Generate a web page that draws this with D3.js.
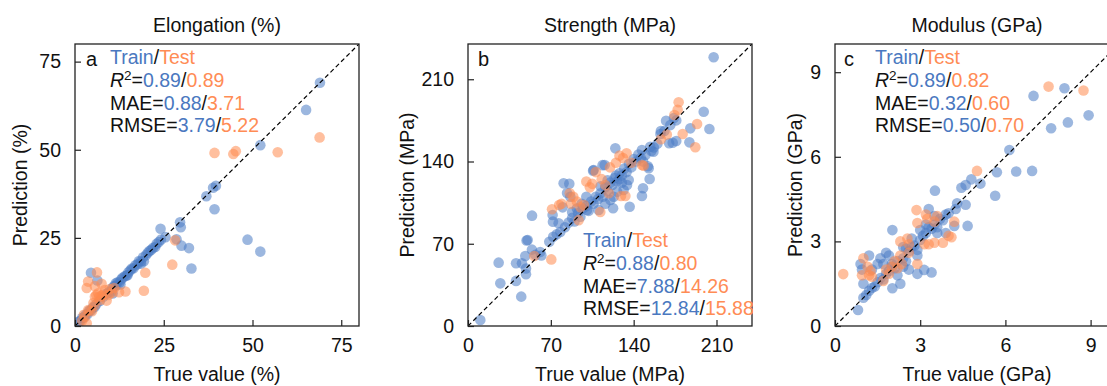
<!DOCTYPE html>
<html>
<head>
<meta charset="utf-8">
<title>Prediction vs true value</title>
<script src="https://d3js.org/d3.v7.min.js"></script>
<style>
body { margin: 0; background: #fff; }
svg text { font-family: "Liberation Sans", Arial, sans-serif; fill: #111; }
</style>
</head>
<body>
<div id="chart"></div>
<script>

// ---- data: [true, predicted] ----
var elongTrain = [[69,69],[65.1,61.3],[52.2,51.3],[39.7,39.8],[38.9,39.2],[37,36.8],[39.3,33.1],[29.6,29.4],[29.8,28],
  [24.1,27.6],[25.5,25.2],[28.6,24.6],[30,22.8],[32.1,22.1],[48.6,24.5],[52.2,21.1],[32.8,16.3],[4.5,15.1],[6.3,12.9],
  [10.6,9.2],[11.5,12.1],[18.6,17.7],[19.4,18.4],[10.5,10.8],[11,11.3],[11.6,11.5],[12,12.4],[12.5,12.3],[13,13.2],
  [13.4,13.7],[14,14.1],[14.5,14.3],[15,15.2],[15.6,15.8],[16,16.3],[16.5,16.4],[17,17.2],[17.6,17.5],[18,18.4],
  [18.5,18.3],[19.2,19.5],[20,20.1],[20.5,20.8],[21,21.3],[21.5,21.6],[22,22.2],[22.6,22.4],[23,23.3],[23.6,23.8],
  [24.2,24.5],[1,1.2],[1.5,1.4],[2,2.3],[2.5,2.4],[3,3.2],[3.5,3.3],[4,4.3],[4.5,4.4],[5,5.2],[5.5,5.4],[6,6.2],
  [7,7.1],[8,8.3],[9,9.2],[9.5,9.6],[12.8,11.8],[14.8,14.4],[10.2,9.8]];
var elongTest = [[68.9,53.5],[57.1,49.3],[39.3,49.1],[44.6,48.8],[45.3,49.6],[28.2,24.3],[27.4,17.4],[19.8,15.1],
  [19.4,10],[14.2,9.8],[12.4,9.6],[10.4,9.4],[3.7,12.6],[3.3,10.8],[5.6,11.3],[6.2,15.2],[7.5,12],[8.4,10.2],[6.5,9.3],
  [5.6,8.3],[9.4,8.8],[8.9,7.2],[7,7.4],[5.2,6.5],[3.7,4.5],[2.8,2.6],[3.3,0.8],[2,1.5],[4.2,4.4],[6,8.8],[7.5,8.6],
  [8,9],[9.8,10.5],[11,10.8],[5.5,5.8],[4.8,4.2],[2.5,3.2],[6.8,8.2]];

var strengthTrain = [[207.6,228.7],[199.2,182.4],[204,167.7],[187.9,168.2],[187.1,156.3],[167.4,174.7],[171,171],
  [174,177],[176,175],[162.6,163.4],[166,166],[170,155.5],[173,156],[176,157.5],[157,152],[155,149],[153.5,125.1],
  [147.9,117.2],[147,110.7],[152,136],[150,145.5],[154,152.6],[156.7,148.3],[147,149.8],[152.7,134.2],[136.6,101.5],
  [124.5,151.2],[122.6,100.2],[105.7,132.2],[113.7,136.9],[80.8,121.4],[85.6,121],[83.7,113.2],[86.5,110],[80,101],
  [71.5,94.5],[71.8,88.8],[76.6,87.4],[54.1,93.9],[50.4,73.2],[49.5,72.8],[54,65],[48.4,59.6],[45.6,53.3],[49,49],
  [49,44],[40.6,53.4],[40.6,38.4],[45,25],[25.9,53.9],[27.3,36.3],[10.4,5.1],[57,60.5],[61,63],[68.7,71.6],[62,60],
  [72,76],[75,78],[78,80],[82,84],[85,88],[88,92],[90,89],[93,96],[95,93],[97,100],[100,102],[102,98],[104,106],
  [106,104],[108,110],[110,108],[112,113],[114,110],[116,118],[118,115],[120,122],[122,120],[124,126],[126,123],
  [128,130],[130,128],[132,134],[134,131],[136,138],[138,135],[140,142],[142,140],[144,146],[146,143],[135.8,124.3],
  [134.4,120],[131.5,115.7],[126,114.3],[123.1,110],[120.3,107.2],[115.5,137],[106.2,132.8],[100.6,98.7],[110.4,98.7],
  [116,104],[128,125],[130,122],[125,128],[118,124],[112,119],[100,110],[96,104],[92,100],[88,97],[148,140],[160,155],[163,166]];
var strengthTest = [[178,190.4],[177.2,184],[174.4,179.6],[193.6,171.9],[192.1,152.1],[181.4,163.4],[163,159],[168,163],
  [148.4,136.4],[125,139],[128,145],[131,143],[134,147],[129.3,110.6],[133,110.6],[105,121],[108,131],[113,125],[100,123],
  [111.8,97],[86,113],[89,110],[87,104],[92,106],[79,104],[77,103],[71,99.3],[93.5,90.1],[70.4,56.7],[56,59.6],[98,103],
  [120,135],[116,120],[138,139],[103,118],[119,113],[147,137],[95,101]];

var modulusTrain = [[8.08,8.43],[6.99,8.16],[8.93,7.47],[8.2,7.22],[7.61,7.01],[6.14,6.24],[6.94,5.5],[6.38,5.48],[5.7,5.45],
  [5.64,4.62],[5.12,5.05],[4.8,5.2],[4.6,5.0],[4.45,4.9],[4.6,4.3],[4.3,4.35],[4.25,4.15],[4.67,3.55],[4.2,3.55],[3.52,4.8],
  [3.3,4.15],[3.14,1.99],[3.4,1.9],[2.9,1.85],[2.02,3.4],[2.02,1.34],[2.3,1.5],[0.81,0.57],[1.0,1.0],[0.9,2.2],[0.95,2.0],
  [1.0,1.5],[2.9,2.5],[2.5,2.75],[2.7,2.8],[1.1,1.1],[1.2,1.25],[1.3,1.35],[1.4,1.4],[1.5,1.55],[1.6,1.7],[1.7,1.65],
  [1.8,1.85],[1.9,1.95],[2.0,2.1],[2.1,2.05],[2.2,2.3],[2.4,2.4],[2.6,2.65],[2.8,2.85],[3.0,3.05],[3.2,3.3],[3.4,3.45],
  [3.5,3.6],[3.6,3.5],[3.7,3.8],[3.8,3.75],[3.9,3.95],[4.0,4.0],[3.3,3.5],[3.6,3.3],[3.5,3.9],[3.9,3.3],[3.2,3.6],[3.0,3.4],
  [1.2,2.5],[1.6,2.4],[1.8,2.6],[1.9,2.5],[2.0,2.2],[1.5,2.2],[1.3,2.0],[2.4,2.8],[2.5,2.3],[2.7,3.1],[2.4,2.1],[2.2,1.8],
  [2.9,2.7],[3.1,3.2],[1.7,2.2],[2.6,2.0]];
var modulusTest = [[7.52,8.49],[8.75,8.35],[5.0,5.5],[2.87,4.11],[2.9,3.65],[3.2,3.95],[3.25,3.8],[3.5,3.7],[4.2,3.7],
  [4.0,3.2],[4.1,3.15],[3.8,2.95],[3.5,2.95],[3.3,2.9],[3.15,2.9],[2.3,3.0],[2.55,3.1],[2.9,2.2],[0.29,1.84],[1.0,2.4],
  [1.15,2.1],[1.25,1.95],[0.95,1.8],[1.2,1.8],[1.3,1.75],[1.8,2.0],[2.0,2.1],[1.9,1.85],[2.3,2.5],[2.35,2.2],[2.6,2.6],
  [2.1,2.3],[1.7,1.6],[2.6,2.9],[3.6,3.9],[2.2,2.05]];

var elongTicks = [0, 25, 50, 75];
var strengthTicks = [0, 70, 140, 210];
var modulusTicks = [0, 3, 6, 9];

var titles = ["Elongation (%)", "Strength (MPa)", "Modulus (GPa)"];
var xLabels = ["True value (%)", "True value (MPa)", "True value (GPa)"];
var yLabels = ["Prediction (%)", "Prediction (MPa)", "Prediction (GPa)"];
var letters = ["a", "b", "c"];
// [R2 train, R2 test], [MAE train, test], [RMSE train, test]
var elongStats = [["0.89","0.89"],["0.88","3.71"],["3.79","5.22"]];
var strengthStats = [["0.88","0.80"],["7.88","14.26"],["12.84","15.88"]];
var modulusStats = [["0.89","0.82"],["0.32","0.60"],["0.50","0.70"]];

(function() {
var blue = "#4a7bc4", orange = "#ff8a4f";
var blueText = "#4a78c0", orangeText = "#ff8c55";
var fs = "19.5px";

var width = 1107, height = 386;
var svg = d3.select("#chart").append("svg").attr("width", width).attr("height", height);

var plotTop = 44, plotBottom = 326, pw = 284;

var panels = [
  {left: 75, max: 80, ticks: elongTicks, train: elongTrain, test: elongTest, stats: elongStats,
   letterX: 11, annX: 35, annY: 64, ylabX: 20},
  {left: 468, max: 240, ticks: strengthTicks, train: strengthTrain, test: strengthTest, stats: strengthStats,
   letterX: 10, annX: 115, annY: 247, ylabX: 407},
  {left: 835, max: 10, ticks: modulusTicks, train: modulusTrain, test: modulusTest, stats: modulusStats,
   letterX: 9, annX: 40, annY: 64, ylabX: 795}
];

panels.forEach(function(p, i) {
  var x = d3.scaleLinear().domain([0, p.max]).range([p.left, p.left + pw]);
  var y = d3.scaleLinear().domain([0, p.max]).range([plotBottom, plotTop]);
  var g = svg.append("g");

  g.append("clipPath").attr("id", "clip" + i).append("rect")
    .attr("x", p.left).attr("y", plotTop).attr("width", pw).attr("height", plotBottom - plotTop);

  var pts = g.append("g").attr("clip-path", "url(#clip" + i + ")");
  pts.selectAll(".train").data(p.train).enter().append("circle").attr("class", "train")
    .attr("cx", function(d) { return x(d[0]); }).attr("cy", function(d) { return y(d[1]); })
    .attr("r", 5.3).attr("fill", blue).attr("fill-opacity", 0.55);
  pts.selectAll(".test").data(p.test).enter().append("circle").attr("class", "test")
    .attr("cx", function(d) { return x(d[0]); }).attr("cy", function(d) { return y(d[1]); })
    .attr("r", 5.3).attr("fill", orange).attr("fill-opacity", 0.55);

  // diagonal y = x
  pts.append("line").attr("x1", x(0)).attr("y1", y(0)).attr("x2", x(p.max)).attr("y2", y(p.max))
    .attr("stroke", "#000").attr("stroke-width", 1.2).attr("stroke-dasharray", "4.5,3");

  // axes, ticks pointing inward
  var xa = g.append("g").attr("transform", "translate(0," + plotBottom + ")")
    .call(d3.axisBottom(x).tickValues(p.ticks).tickSizeInner(-6).tickSizeOuter(0).tickPadding(12));
  var ya = g.append("g").attr("transform", "translate(" + p.left + ",0)")
    .call(d3.axisLeft(y).tickValues(p.ticks).tickSizeInner(-6).tickSizeOuter(0).tickPadding(14));
  [xa, ya].forEach(function(a) {
    a.select(".domain").remove();
    a.selectAll("line").attr("stroke", "#222").attr("stroke-width", 1.2);
    a.selectAll("text").style("font-size", fs).attr("fill", "#111");
  });

  g.append("rect").attr("x", p.left).attr("y", plotTop).attr("width", pw).attr("height", plotBottom - plotTop)
    .attr("fill", "none").attr("stroke", "#222").attr("stroke-width", 1.3);

  g.append("text").attr("x", p.left + pw / 2).attr("y", 32).attr("text-anchor", "middle")
    .style("font-size", fs).text(titles[i]);
  g.append("text").attr("x", p.left + pw / 2).attr("y", 381).attr("text-anchor", "middle")
    .style("font-size", fs).text(xLabels[i]);
  g.append("text").attr("transform", "translate(" + p.ylabX + "," + (plotTop + plotBottom) / 2 + ") rotate(-90)")
    .attr("text-anchor", "middle").attr("dy", "0.35em").style("font-size", fs).text(yLabels[i]);

  g.append("text").attr("x", p.left + p.letterX).attr("y", 66).style("font-size", "20px").text(letters[i]);

  // metrics block
  var ax = p.left + p.annX, lh = 22.8;
  var t0 = g.append("text").attr("x", ax).attr("y", p.annY).style("font-size", fs);
  t0.append("tspan").style("fill", blueText).text("Train");
  t0.append("tspan").text("/");
  t0.append("tspan").style("fill", orangeText).text("Test");

  var names = ["R2", "MAE=", "RMSE="];
  p.stats.forEach(function(s, k) {
    var t = g.append("text").attr("x", ax).attr("y", p.annY + lh * (k + 1)).style("font-size", fs);
    if (k === 0) {
      t.append("tspan").style("font-style", "italic").text("R");
      t.append("tspan").attr("dy", -7).style("font-size", "13.5px").text("2");
      t.append("tspan").attr("dy", 7).text("=");
    } else {
      t.append("tspan").text(names[k]);
    }
    t.append("tspan").style("fill", blueText).text(s[0]);
    t.append("tspan").text("/");
    t.append("tspan").style("fill", orangeText).text(s[1]);
  });
});
})();

</script>
</body>
</html>
